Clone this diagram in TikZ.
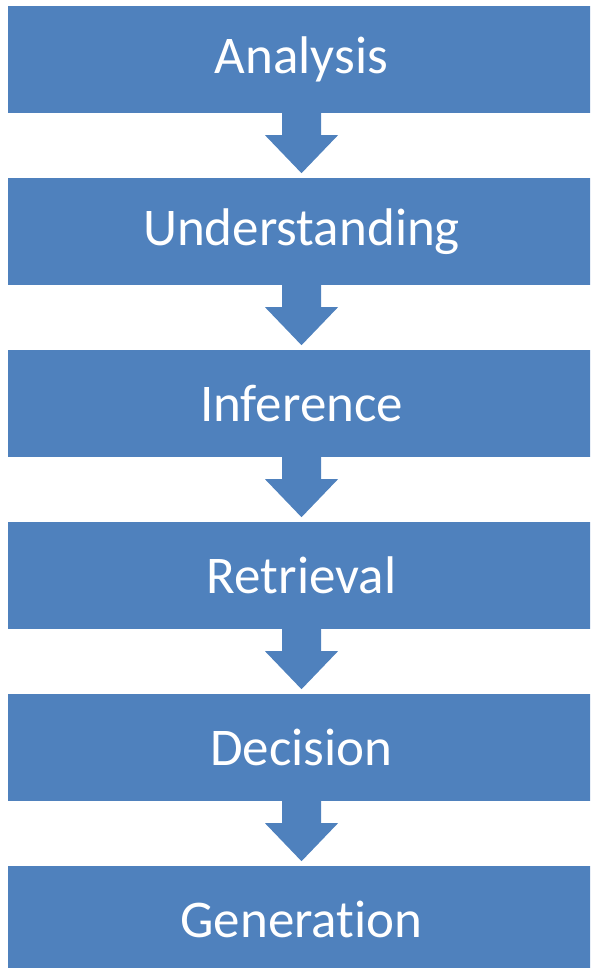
\documentclass[tikz,border=0pt]{standalone}
\usepackage{fontspec}
\setmainfont[RawFeature={-liga;-clig;-dlig}]{Carlito}
\usetikzlibrary{calc}
\definecolor{boxblue}{HTML}{4F81BD}
\tikzset{
  stepbox/.style={fill=boxblue, draw=none, minimum width=587pt, minimum height=107pt,
    inner sep=0pt, text=white, font=\fontsize{53}{60}\selectfont},
  downarrow/.style={fill=boxblue, draw=none}
}
\newcommand{\blockarrow}[1]{%
  \fill[downarrow] ($(#1.south)+(-19.5pt,0.5pt)$) -- ($(#1.south)+(-19.5pt,-22pt)$)
    -- ($(#1.south)+(-36.5pt,-22pt)$) -- ($(#1.south)+(0pt,-60pt)$)
    -- ($(#1.south)+(36.5pt,-22pt)$) -- ($(#1.south)+(19.5pt,-22pt)$)
    -- ($(#1.south)+(19.5pt,0.5pt)$) -- cycle;}
\begin{document}
\begin{tikzpicture}[x=1pt,y=1pt]
\useasboundingbox (0,0) rectangle (590,-968);
\clip (0,0) rectangle (590,-968);
\node[stepbox] (a) at (301.5,-59.5) {Analysis};
\node[stepbox] (b) at (301.5,-231.5) {Understanding};
\node[stepbox] (c) at (301.5,-403.5) {Inference};
\node[stepbox] (d) at (301.5,-575.5) {Retrieval};
\node[stepbox] (e) at (301.5,-747.5) {Decision};
\node[stepbox] (f) at (301.5,-919.5) {Generation};
\blockarrow{a}
\blockarrow{b}
\blockarrow{c}
\blockarrow{d}
\blockarrow{e}
\end{tikzpicture}
\end{document}
